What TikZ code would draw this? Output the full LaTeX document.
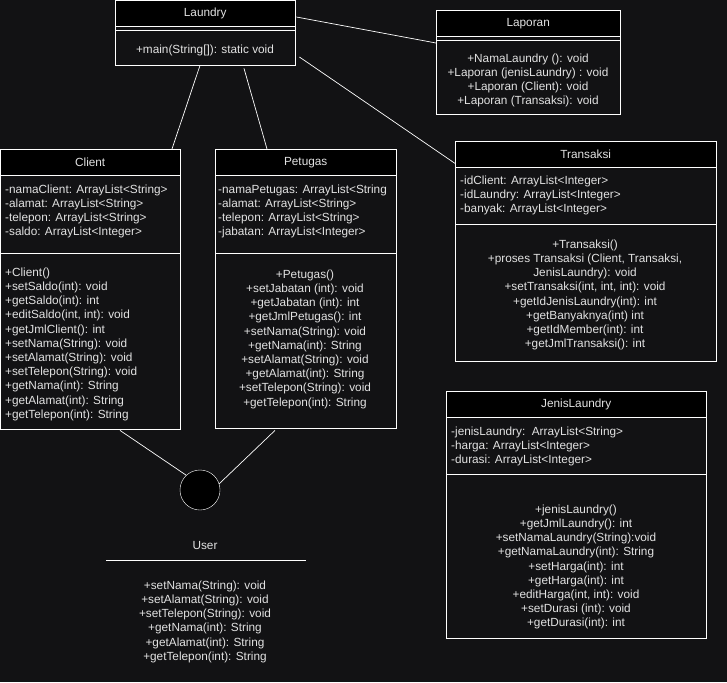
\documentclass[tikz,border=0pt]{standalone}
\usepackage{fontspec}
\setmainfont{Liberation Sans}
\usepackage{xcolor}
\usetikzlibrary{positioning, calc}

\definecolor{canvas}{HTML}{121214}
\definecolor{ink}{HTML}{E2E2E2}

\begin{document}
\begin{tikzpicture}[
    x=1pt, y=-1pt,
    uml font/.style={font=\fontsize{11.8}{14.2}\selectfont, text=ink},
    head/.style={uml font, draw=white, fill=black, anchor=north west, minimum height=26pt, inner sep=0pt},
    part/.style={draw=white, fill=canvas, anchor=north west, inner sep=0pt},
    members/.style={uml font, inner sep=0pt, anchor=north west, align=left},
    methods/.style={uml font, inner sep=0pt, anchor=north, align=center},
    link/.style={white, line width=0.7pt}
]

% background and page size
\fill[canvas] (0,0) rectangle (727,682);
\useasboundingbox (0,0) rectangle (727,682);

% --- 1. Laundry ---
\node[head, minimum width=180pt] (laundry) at (115,0) {Laundry};
\node[part, minimum width=180pt, minimum height=39pt] (laundryOps) at (115,26) {};
\draw[white] ($(laundryOps.north west)+(0,4)$) -- ($(laundryOps.north east)+(0,4)$);
\node[methods] (laundryText) at (205,44.5) {+main(String[]): static void};

% --- 2. Laporan ---
\node[head, minimum width=184pt] (laporan) at (436,10) {Laporan};
\node[part, minimum width=184pt, minimum height=78pt] (laporanOps) at (436,36) {};
\draw[white] ($(laporanOps.north west)+(0,4)$) -- ($(laporanOps.north east)+(0,4)$);
\node[methods] (laporanText) at (528,53.5) {+NamaLaundry (): void\\
    +Laporan (jenisLaundry) : void\\
    +Laporan (Client): void\\
    +Laporan (Transaksi): void};

% --- 3. Client ---
\node[head, minimum width=180pt] (client) at (0,149) {Client};
\node[part, minimum width=180pt, minimum height=78pt] (clientAttr) at (0,175) {};
\node[part, minimum width=180pt, minimum height=176pt] (clientOps) at (0,253) {};
\node[members] (clientAttrText) at (5,184.5) {-namaClient: ArrayList<String>\\
    -alamat: ArrayList<String>\\
    -telepon: ArrayList<String>\\
    -saldo: ArrayList<Integer>};
\node[members] (clientOpsText) at (5,267.5) {+Client()\\
    +setSaldo(int): void\\
    +getSaldo(int): int\\
    +editSaldo(int, int): void\\
    +getJmlClient(): int\\
    +setNama(String): void\\
    +setAlamat(String): void\\
    +setTelepon(String): void\\
    +getNama(int): String\\
    +getAlamat(int): String\\
    +getTelepon(int): String};

% --- 4. Petugas ---
\node[head, minimum width=181pt] (petugas) at (215,149) {Petugas};
\node[part, minimum width=181pt, minimum height=78pt] (petugasAttr) at (215,175) {};
\node[part, minimum width=181pt, minimum height=175pt] (petugasOps) at (215,253) {};
\node[members] (petugasAttrText) at (218,184.5) {-namaPetugas: ArrayList<String\\
    -alamat: ArrayList<String>\\
    -telepon: ArrayList<String>\\
    -jabatan: ArrayList<Integer>};
\node[methods] (petugasOpsText) at (305,269.5) {+Petugas()\\
    +setJabatan (int): void\\
    +getJabatan (int): int\\
    +getJmlPetugas(): int\\
    +setNama(String): void\\
    +getNama(int): String\\
    +setAlamat(String): void\\
    +getAlamat(int): String\\
    +setTelepon(String): void\\
    +getTelepon(int): String};

% --- 5. Transaksi ---
\node[head, minimum width=261pt] (transaksi) at (455,141) {Transaksi};
\node[part, minimum width=261pt, minimum height=57pt] (transaksiAttr) at (455,167) {};
\node[part, minimum width=261pt, minimum height=137pt] (transaksiOps) at (455,224) {};
\node[members] (transaksiAttrText) at (460,175.5) {-idClient: ArrayList<Integer>\\
    -idLaundry: ArrayList<Integer>\\
    -banyak: ArrayList<Integer>};
\node[methods] (transaksiOpsText) at (585,239.5) {+Transaksi()\\
    +proses Transaksi (Client, Transaksi,\\
    JenisLaundry): void\\
    +setTransaksi(int, int, int): void\\
    +getIdJenisLaundry(int): int\\
    +getBanyaknya(int) int\\
    +getIdMember(int): int\\
    +getJmlTransaksi(): int};

% --- 6. JenisLaundry ---
\node[head, minimum width=260pt] (jenis) at (446,391) {JenisLaundry};
\node[part, minimum width=260pt, minimum height=57pt] (jenisAttr) at (446,417) {};
\node[part, minimum width=260pt, minimum height=164pt] (jenisOps) at (446,474) {};
\node[members] (jenisAttrText) at (451,426.5) {-jenisLaundry:\ \ ArrayList<String>\\
    -harga: ArrayList<Integer>\\
    -durasi: ArrayList<Integer>};
\node[methods] (jenisOpsText) at (576,504.5) {+jenisLaundry()\\
    +getJmlLaundry(): int\\
    +setNamaLaundry(String):void\\
    +getNamaLaundry(int): String\\
    +setHarga(int): int\\
    +getHarga(int): int\\
    +editHarga(int, int): void\\
    +setDurasi (int): void\\
    +getDurasi(int): int};

% --- 7. User (interface) ---
\node[circle, draw=white, fill=black, minimum size=40pt, inner sep=0pt] (user) at (200,490) {};
\node[uml font, inner sep=0pt] (userName) at (205,545) {User};
\draw[white] (106,560) -- (306,560);
\node[methods] (userText) at (205,580.5) {+setNama(String): void\\
    +setAlamat(String): void\\
    +setTelepon(String): void\\
    +getNama(int): String\\
    +getAlamat(int): String\\
    +getTelepon(int): String};

% --- 8. Links ---
\begin{scope}[link]
    \draw ($(laundry.north east)+(1,17)$) -- ($(laporanOps.north west)+(0,7)$);
    \draw ($(laundryOps.north east)+(4,31)$) -- ($(transaksi.south west)+(0,-4)$);
    \draw ($(laundryOps.south west)+(85,0)$) -- ($(client.north west)+(172,0)$);
    \draw ($(laundryOps.south west)+(129,3)$) -- ($(petugas.north west)+(52,0)$);
    \draw ($(clientOps.south west)+(120,1)$) -- (user.133);
    \draw ($(petugasOps.south west)+(60,2)$) -- (user.18);
\end{scope}

\end{tikzpicture}
\end{document}
